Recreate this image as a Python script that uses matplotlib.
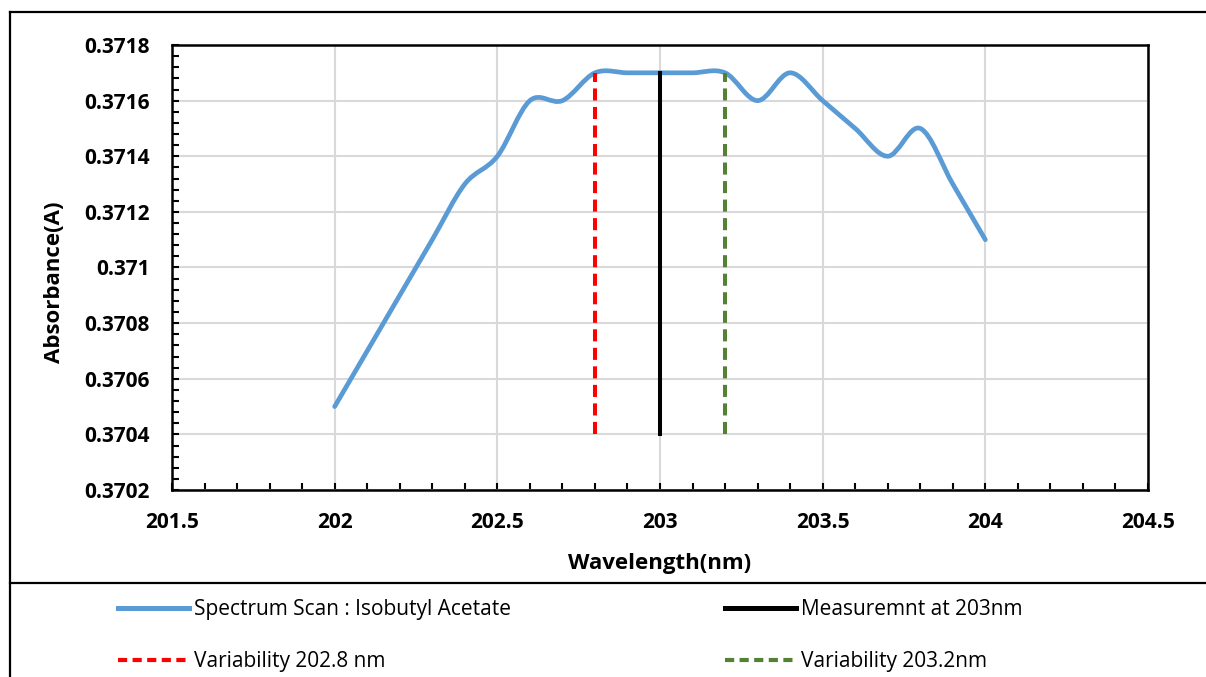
import matplotlib
matplotlib.use('Agg')
import matplotlib.pyplot as plt
from matplotlib.path import Path
from matplotlib.patches import PathPatch
from matplotlib.lines import Line2D
import numpy as np

# spectrum scan (0.1 nm steps)
wavelength = [202.0, 202.1, 202.2, 202.3, 202.4, 202.5, 202.6, 202.7, 202.8, 202.9,
              203.0, 203.1, 203.2, 203.3, 203.4, 203.5, 203.6, 203.7, 203.8, 203.9, 204.0]
absorbance = [0.3705, 0.3707, 0.3709, 0.3711, 0.3713, 0.3714, 0.3716, 0.3716, 0.3717, 0.3717,
              0.3717, 0.3717, 0.3717, 0.3716, 0.3717, 0.3716, 0.3715, 0.3714, 0.3715, 0.3713, 0.3711]

marker_x = [202.8, 203.0, 203.2]
marker_bottom = 0.3704
marker_top = 0.3717
marker_labels = ["Variability 202.8 nm", "Measuremnt at 203nm", "Variability 203.2nm"]
series_label = "Spectrum Scan : Isobutyl Acetate"

x_ticks = [201.5, 202, 202.5, 203, 203.5, 204, 204.5]
y_ticks = [0.3702, 0.3704, 0.3706, 0.3708, 0.371, 0.3712, 0.3714, 0.3716, 0.3718]

BLUE = '#5B9BD5'
RED = '#FF0000'
GREEN = '#548235'
GRID = '#D9D9D9'
FONT = 'Open Sans'


def smooth_path(xs, ys):
    """Excel-like smoothed line: Catmull-Rom segments as cubic Beziers."""
    p = np.column_stack([xs, ys])
    n = len(p)
    verts = [p[0]]
    codes = [Path.MOVETO]
    for i in range(n - 1):
        p0 = p[i - 1] if i > 0 else p[i]
        p3 = p[i + 2] if i + 2 < n else p[i + 1]
        c1 = p[i] + (p[i + 1] - p0) / 6.0
        c2 = p[i + 1] - (p3 - p[i]) / 6.0
        verts += [c1, c2, p[i + 1]]
        codes += [Path.CURVE4] * 3
    return Path(verts, codes)


fig = plt.figure(figsize=(12.06, 6.77), dpi=100)
ax = fig.add_axes([172 / 1206, 1 - 490 / 677, (1148 - 172) / 1206, (490 - 45) / 677])

ax.add_patch(PathPatch(smooth_path(wavelength, absorbance), fill=False,
                       edgecolor=BLUE, lw=3.4, capstyle='round', joinstyle='round', zorder=3))

styles = [(RED, (0, (3.0, 1.6))), ('black', '-'), (GREEN, (0, (3.0, 1.6)))]
for xv, (col, ls) in zip(marker_x, styles):
    ax.plot([xv, xv], [marker_bottom, marker_top], color=col, ls=ls, lw=2.9, zorder=4)

ax.set_xlim(201.5, 204.5)
ax.set_ylim(0.3702, 0.3718)
ax.set_xticks(x_ticks)
ax.set_xticklabels(['%g' % v for v in x_ticks])
ax.set_yticks(y_ticks)
ax.set_yticklabels(['%g' % v for v in y_ticks])
ax.set_xticks(np.arange(201.5, 204.51, 0.1), minor=True)
ax.set_yticks(np.arange(0.3702, 0.37181, 0.00004), minor=True)

ax.grid(True, which='major', color=GRID, lw=1.5, zorder=0)
ax.set_axisbelow(True)
for s in ax.spines.values():
    s.set_linewidth(1.8)
    s.set_color('black')

ax.tick_params(which='both', direction='in', width=1.5, color='black')
ax.tick_params(which='major', length=5, pad=16)
ax.tick_params(which='minor', length=5)
for lab in ax.get_xticklabels() + ax.get_yticklabels():
    lab.set_fontfamily(FONT)
    lab.set_fontweight('bold')
    lab.set_fontsize(15)

ax.set_xlabel('Wavelength(nm)', fontfamily=FONT, fontweight='bold', fontsize=16, labelpad=14)
ax.set_ylabel('Absorbance(A)', fontfamily=FONT, fontweight='bold', fontsize=16, labelpad=14)
ax.yaxis.label.set_y(0.466)

# chart frame and legend separator
fl = 10 / 1206
ft = 1 - 12 / 677
fs = 1 - 583 / 677
for xs, ys in [([fl, 1], [ft, ft]), ([fl, fl], [0, ft]), ([fl, 1], [fs, fs])]:
    fig.add_artist(Line2D(xs, ys, transform=fig.transFigure, color='black', lw=1.6))

h_blue = Line2D([], [], color=BLUE, lw=3.6)
h_red = Line2D([], [], color=RED, lw=3.0, ls=(0, (2.2, 1.3)))
h_black = Line2D([], [], color='black', lw=3.6)
h_green = Line2D([], [], color=GREEN, lw=3.0, ls=(0, (2.2, 1.3)))

leg_kw = dict(frameon=False, loc='upper left', borderpad=0, borderaxespad=0,
              handlelength=3.4, handletextpad=0.25, labelspacing=1.5,
              prop={'family': FONT, 'size': 15})
leg1 = fig.legend([h_blue, h_red], [series_label, marker_labels[0]],
                  bbox_to_anchor=(118 / 1206, 1 - 599 / 677), **leg_kw)
leg2 = fig.legend([h_black, h_green], [marker_labels[1], marker_labels[2]],
                  bbox_to_anchor=(725 / 1206, 1 - 599 / 677), **leg_kw)

fig.savefig('out.png', dpi=100)
